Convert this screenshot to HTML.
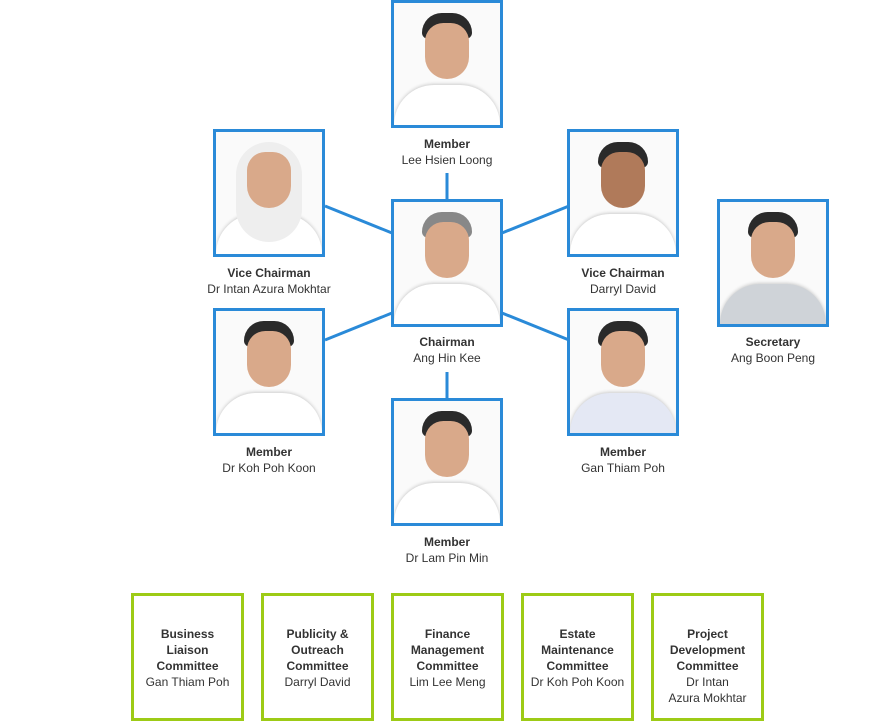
<!DOCTYPE html>
<html><head><meta charset="utf-8"><style>
body{margin:0;width:894px;height:722px;background:#fff;position:relative;font-family:"Liberation Sans",Arial,sans-serif;overflow:hidden}
.p{position:absolute;width:106px;height:122px;border:3px solid #2a8ad8;background:#fafafa;overflow:hidden}
.p .h{position:absolute;left:28px;top:10px;width:50px;height:26px;background:#2a2a2a;border-radius:25px 25px 8px 8px}
.p .f{position:absolute;left:31px;top:20px;width:44px;height:56px;background:#d9a98a;border-radius:20px 20px 24px 24px}
.p .s{position:absolute;left:0;top:82px;width:106px;height:50px;background:#fff;border-radius:40px 40px 0 0;box-shadow:0 -1px 3px #ccc}
.l{position:absolute;width:200px;text-align:center;font-size:12px;line-height:16px;color:#333}
.l b{color:#333}
.c{position:absolute;top:593px;width:107px;height:122px;border:3px solid #9dcb16;text-align:center;font-size:12px;line-height:16px;color:#333;box-sizing:content-box}
.c div{position:absolute;left:0;right:0;top:30px}
</style></head><body>
<svg width="894" height="722" style="position:absolute;left:0;top:0">
<g stroke="#2a8ad8" stroke-width="3">
<line x1="447" y1="173" x2="447" y2="200"/>
<line x1="447" y1="372" x2="447" y2="399"/>
<line x1="325" y1="206" x2="392" y2="233"/>
<line x1="325" y1="340" x2="392" y2="313"/>
<line x1="569" y1="206" x2="502" y2="233"/>
<line x1="569" y1="340" x2="502" y2="313"/>
</g></svg>
<div class="p" style="left:391px;top:0"><div class="s"></div><div class="h"></div><div class="f"></div></div>
<div class="p" style="left:213px;top:129px"><div class="s"></div><div class="h" style="background:#eee;left:20px;width:66px;height:100px;border-radius:33px"></div><div class="f"></div></div>
<div class="p" style="left:391px;top:199px"><div class="s"></div><div class="h" style="background:#888"></div><div class="f"></div></div>
<div class="p" style="left:567px;top:129px"><div class="s"></div><div class="h"></div><div class="f" style="background:#b07a5a"></div></div>
<div class="p" style="left:717px;top:199px"><div class="s" style="background:#cfd3d8"></div><div class="h"></div><div class="f"></div></div>
<div class="p" style="left:213px;top:308px"><div class="s"></div><div class="h"></div><div class="f"></div></div>
<div class="p" style="left:567px;top:308px"><div class="s" style="background:#e4e8f4"></div><div class="h"></div><div class="f"></div></div>
<div class="p" style="left:391px;top:398px"><div class="s"></div><div class="h"></div><div class="f"></div></div>

<div class="l" style="left:347px;top:136px"><b>Member</b><br>Lee Hsien Loong</div>
<div class="l" style="left:169px;top:265px"><b>Vice Chairman</b><br>Dr Intan Azura Mokhtar</div>
<div class="l" style="left:347px;top:334px"><b>Chairman</b><br>Ang Hin Kee</div>
<div class="l" style="left:523px;top:265px"><b>Vice Chairman</b><br>Darryl David</div>
<div class="l" style="left:673px;top:334px"><b>Secretary</b><br>Ang Boon Peng</div>
<div class="l" style="left:169px;top:444px"><b>Member</b><br>Dr Koh Poh Koon</div>
<div class="l" style="left:523px;top:444px"><b>Member</b><br>Gan Thiam Poh</div>
<div class="l" style="left:347px;top:534px"><b>Member</b><br>Dr Lam Pin Min</div>

<div class="c" style="left:131px"><div><b>Business<br>Liaison<br>Committee</b><br>Gan Thiam Poh</div></div>
<div class="c" style="left:261px"><div><b>Publicity &amp;<br>Outreach<br>Committee</b><br>Darryl David</div></div>
<div class="c" style="left:391px"><div><b>Finance<br>Management<br>Committee</b><br>Lim Lee Meng</div></div>
<div class="c" style="left:521px"><div><b>Estate<br>Maintenance<br>Committee</b><br>Dr Koh Poh Koon</div></div>
<div class="c" style="left:651px"><div><b>Project<br>Development<br>Committee</b><br>Dr Intan<br>Azura Mokhtar</div></div>
</body></html>
